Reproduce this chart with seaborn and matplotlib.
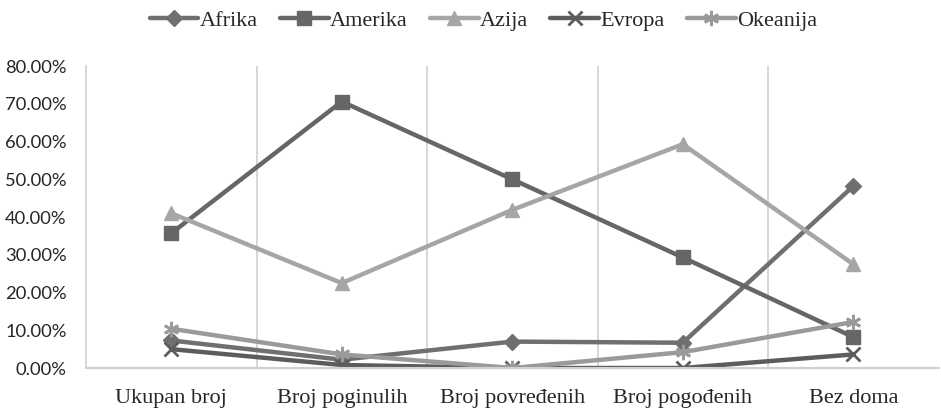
import matplotlib
matplotlib.use("Agg")
import matplotlib.pyplot as plt
import seaborn as sns
import pandas as pd

# kategorije i vrijednosti (udio)
categories = ["Ukupan broj", "Broj poginulih", "Broj povređenih", "Broj pogođenih", "Bez doma"]
afrika = [0.073, 0.022, 0.070, 0.067, 0.482]
amerika = [0.357, 0.706, 0.500, 0.293, 0.082]
azija = [0.410, 0.225, 0.419, 0.593, 0.275]
evropa = [0.050, 0.008, 0.000, 0.000, 0.036]
okeanija = [0.104, 0.036, 0.000, 0.042, 0.122]

series_names = ["Afrika", "Amerika", "Azija", "Evropa", "Okeanija"]
series_values = [afrika, amerika, azija, evropa, okeanija]
y_ticks = [0.0, 0.1, 0.2, 0.3, 0.4, 0.5, 0.6, 0.7, 0.8]

colors = ["#6f6f6f", "#666666", "#a6a6a6", "#5c5c5c", "#9a9a9a"]
markers = ["D", "s", "^", "x", (6, 2, 0)]
msizes = [8, 10, 10, 10, 11]

rows = []
for name, vals in zip(series_names, series_values):
    for i, v in enumerate(vals):
        rows.append({"serija": name, "x": i, "y": v})
df = pd.DataFrame(rows)

sns.set_style("white")
plt.rcParams["font.family"] = ["Liberation Serif", "DejaVu Serif"]

fig = plt.figure(figsize=(9.41, 4.08), dpi=100)
ax = fig.add_axes([0.0914, 0.098, 0.906, 0.740])

for name, c, m, ms in zip(series_names, colors, markers, msizes):
    sub = df[df["serija"] == name]
    sns.lineplot(data=sub, x="x", y="y", ax=ax, color=c, linewidth=3.2,
                 marker=m, markersize=ms, markeredgecolor=c, markerfacecolor=c,
                 markeredgewidth=2 if m in ("x", (6, 2, 0)) else 1,
                 label=name)

ax.set_xlim(-0.5, 4.5)
ax.set_ylim(0, 0.8)
for xv in [0.5, 1.5, 2.5, 3.5]:
    ax.axvline(xv, color="#d0d0d0", linewidth=1.2, zorder=0)

ax.set_xticks(range(len(categories)))
ax.set_xticklabels(categories, fontsize=16)
ax.set_yticks(y_ticks)
ax.set_yticklabels([f"{t * 100:.2f}%" for t in y_ticks], fontsize=13.2,
                   family=["Lato", "DejaVu Sans"])
ax.tick_params(axis="both", length=0)
ax.tick_params(axis="y", pad=14)
ax.tick_params(axis="x", pad=15)
ax.set_xlabel("")
ax.set_ylabel("")

for s in ["top", "right"]:
    ax.spines[s].set_visible(False)
ax.spines["left"].set_color("#d0d0d0")
ax.spines["bottom"].set_color("#d0d0d0")
ax.spines["left"].set_linewidth(1.2)
ax.spines["bottom"].set_linewidth(1.5)

ax.legend(loc="upper center", bbox_to_anchor=(0.466, 1.235), ncol=5, frameon=False,
          fontsize=16, handlelength=2.2, handletextpad=0.05, columnspacing=1.0,
          borderpad=0.2)

fig.savefig("out.png", dpi=100)
